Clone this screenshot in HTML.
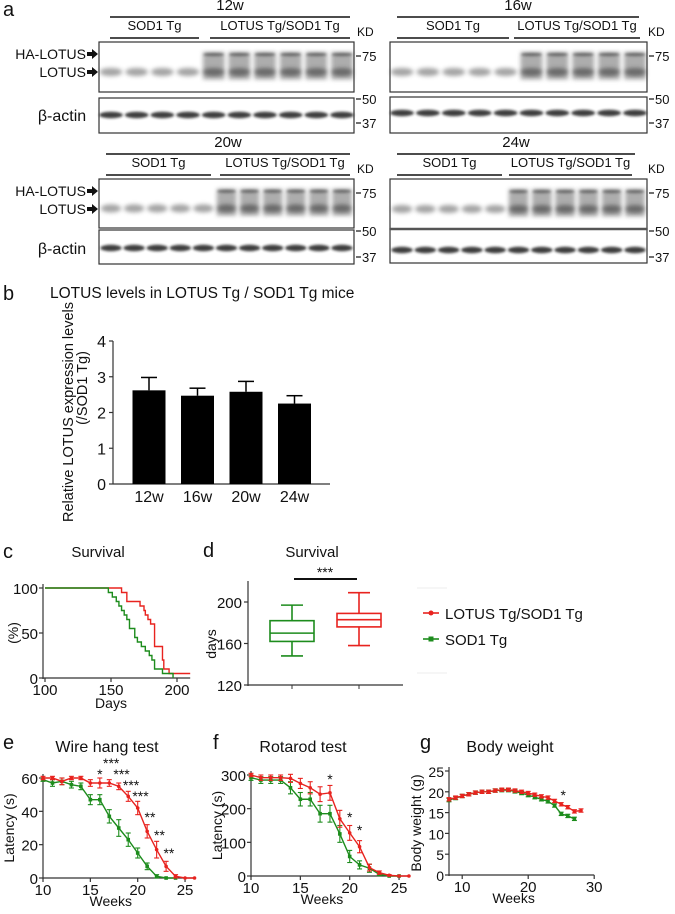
<!DOCTYPE html>
<html><head><meta charset="utf-8">
<style>
html,body{margin:0;padding:0;background:#fff;}
svg{display:block;font-family:"Liberation Sans",Arial,sans-serif;}
</style></head>
<body>
<svg id="fig" width="675" height="914" viewBox="0 0 675 914" xmlns="http://www.w3.org/2000/svg">
<defs>
<filter id="bl" x="-50%" y="-100%" width="200%" height="300%"><feGaussianBlur stdDeviation="2.2"/></filter>
<filter id="bl2" x="-50%" y="-100%" width="200%" height="300%"><feGaussianBlur stdDeviation="1.3"/></filter>
</defs>
<g id="root"></g>
</svg>
<script>
// ---------- DATA ----------
const barCats = ["12w","16w","20w","24w"];
const barVals = [2.62,2.47,2.58,2.25];
const barErr = [0.36,0.21,0.29,0.22];
const barTicks = [0,1,2,3,4];

const survRedT = [100,158,162,172,175,176,178,180,183,189,190,194,210];
const survRedV = [100,95,85,80,75,70,65,60,35,20,10,5,5];
const survGreenT = [100,148,151,154,156,158,160,162,164,168,170,173,176,179,181,183,189,197];
const survGreenV = [100,95,90,85,80,75,70,65,55,45,40,35,30,25,20,10,5,0];
const survXTicks = [100,150,200];
const survYTicks = [0,50,100];

const boxGroups = ["SOD1 Tg","LOTUS Tg/SOD1 Tg"];
const boxMin = [148,158];
const boxQ1 = [162,176];
const boxMed = [170,183];
const boxQ3 = [182,189];
const boxMax = [197,209];
const boxTicks = [120,160,200];

const wireWeeks = [10,11,12,13,14,15,16,17,18,19,20,21,22,23,24,25,26];
const wireRed = [60,60,58,60,60,57,57,57,55,49,42,28,17,7,1,0,0];
const wireRedErr = [1,1,2,1,1,2,3,2,2,3,4,4,5,3,1,0,0];
const wireGreenWeeks = [10,11,12,13,14,15,16,17,18,19,20,21,22,23,24];
const wireGreen = [59,57,58,56,55,47,47,37,30,23,15,7,1,0,0];
const wireGreenErr = [1,2,2,2,2,3,3,4,5,4,3,2,1,0,0];
const wireXTicks = [10,15,20,25];
const wireYTicks = [0,20,40,60];

const rotaWeeks = [10,11,12,13,14,15,16,17,18,19,20,21,22,23,24,25,26];
const rotaRed = [300,292,292,292,290,275,262,243,247,170,128,87,25,10,2,0,0];
const rotaRedErr = [5,8,8,8,12,15,18,22,22,25,22,18,10,5,2,0,0];
const rotaGreenWeeks = [10,11,12,13,14,15,16,17,18,19,20,21,22,23,24,25];
const rotaGreen = [292,285,285,285,262,228,228,185,185,125,58,33,23,5,0,0];
const rotaGreenErr = [8,10,10,10,18,20,20,25,25,25,18,12,12,4,0,0];
const rotaXTicks = [10,15,20,25];
const rotaYTicks = [0,100,200,300];

const bwWeeksRed = [8,9,10,11,12,13,14,15,16,17,18,19,20,21,22,23,24,25,26,27,28];
const bwRed = [18.2,18.6,19,19.4,19.8,20,20,20.3,20.5,20.5,20.3,20,19.7,19.3,18.9,18.6,17.8,17,16.3,15.3,15.5];
const bwWeeksGreen = [8,9,10,11,12,13,14,15,16,17,18,19,20,21,22,23,24,25,26,27];
const bwGreen = [18,18.5,19,19.4,19.8,20,20,20.3,20.4,20.4,20.1,19.7,19.2,18.7,18.2,17.7,16.7,14.7,14.2,13.5];
const bwXTicks = [10,20,30];
const bwYTicks = [0,5,10,15,20,25];

const RED = "#e8231f", GREEN = "#1d8c1d";
const NS = "http://www.w3.org/2000/svg";
const root = document.getElementById("root");

function mk(tag, attrs, parent, txt){
  const e = document.createElementNS(NS, tag);
  for (const k in attrs) e.setAttribute(k, attrs[k]);
  if (txt !== undefined) e.textContent = txt;
  (parent || root).appendChild(e);
  return e;
}
function grp(name){
  const g = document.createElementNS(NS, "g");
  
  
  root.appendChild(g);
  return g;
}
function txt(g, x, y, s, size, anchor, extra){
  return mk("text", Object.assign({x:x, y:y, "font-size":size, "text-anchor":anchor||"start", fill:"#111"}, extra||{}), g, s);
}
function line(g, x1,y1,x2,y2,col,w){
  return mk("line",{x1:x1,y1:y1,x2:x2,y2:y2,stroke:col||"#111","stroke-width":w||1.2},g);
}

// ---------- PANEL A: BLOTS ----------
function blot(name, bx, bw, topY, topH, actY, actH, nS, nL, label, lx1, lx2, sx1, sx2, lo1, lo2, ticks, kdX, showLabels, actBand, thickMid){
  const g = grp(name);
  txt(g, (lx1+lx2)/2, topY-32, label, 15, "middle");
  line(g, lx1, topY-25, lx2, topY-25, "#111", 1.6);
  txt(g, (sx1+sx2)/2, topY-12, "SOD1 Tg", 13, "middle");
  line(g, sx1, topY-4, sx2, topY-4, "#111", 1.6);
  txt(g, (lo1+lo2)/2, topY-12, "LOTUS Tg/SOD1 Tg", 13, "middle");
  line(g, lo1, topY-4, lo2, topY-4, "#111", 1.6);
  txt(g, kdX, topY-6, "KD", 12, "start");
  const bands = mk("g",{}, g);
  const n = nS + nL, pitch = (bw-24)/(n-1);
  for (let i=0;i<n;i++){
    const cx = bx+12+i*pitch;
    if (i < nS){
      mk("ellipse",{cx:cx,cy:topY+topH*0.6,rx:pitch*0.44,ry:4,fill:"#666",opacity:0.6,filter:"url(#bl)"},bands);
    } else {
      mk("rect",{x:cx-pitch*0.42,y:topY+topH*0.2,width:pitch*0.84,height:topH*0.55,fill:"#777",opacity:0.6,filter:"url(#bl)"},bands);
      mk("ellipse",{cx:cx,cy:topY+topH*0.6,rx:pitch*0.42,ry:4,fill:"#333",opacity:0.55,filter:"url(#bl)"},bands);
      mk("ellipse",{cx:cx,cy:topY+topH*0.25,rx:pitch*0.4,ry:1.8,fill:"#333",opacity:0.55,filter:"url(#bl2)"},bands);
    }
    mk("ellipse",{cx:cx,cy:actBand,rx:pitch*0.46,ry:3.2,fill:"#1a1a1a",opacity:0.85,filter:"url(#bl2)"},bands);
  }
  mk("rect",{x:bx,y:topY,width:bw,height:topH,fill:"none",stroke:"#333","stroke-width":1.2},g);
  mk("rect",{x:bx,y:actY,width:bw,height:actH,fill:"none",stroke:"#333","stroke-width":1.2},g);
  if (thickMid) line(g, bx, actY, bx+bw, actY, "#555", 2.5);
  const tx = bx+bw;
  ticks.forEach(t=>{
    line(g, tx+2, t[1], tx+7, t[1], "#111", 1.2);
    txt(g, tx+8, t[1]+5, t[0], 13, "start");
  });
  if (showLabels){
    txt(g, 86, topY+12+5, "HA-LOTUS", 14, "end");
    txt(g, 86, topY+30+5, "LOTUS", 14, "end");
    [topY+12, topY+30].forEach(y=>{
      mk("polygon",{points:`87,${y-2} 92,${y-2} 92,${y-5} 98,${y} 92,${y+5} 92,${y+2} 87,${y+2}`,fill:"#111"},g);
    });
    txt(g, 62, actBand+6, "β-actin", 16, "middle");
  }
}
txt(grp("panel-a-label"), 3, 16, "a", 20, "start");
blot("blot-12w", 99, 255, 42, 50, 98, 35, 4, 6, "12w", 110, 350, 110, 199, 210, 350,
  [["75",56],["50",99],["37",123]], 357, true, 115, false);
blot("blot-16w", 390, 257, 42, 50, 97, 36, 5, 5, "16w", 397, 639, 397, 509, 514, 640,
  [["75",56],["50",99],["37",123]], 648, false, 113, false);
blot("blot-20w", 99, 255, 179, 49, 230, 34, 5, 6, "20w", 106, 350, 106, 211, 220, 350,
  [["75",193],["50",231],["37",257]], 357, true, 248, false);
blot("blot-24w", 390, 257, 179, 50, 229, 34, 5, 6, "24w", 397, 635, 397, 502, 509, 632,
  [["75",193],["50",231],["37",257]], 648, false, 250, true);

// ---------- PANEL B: BAR CHART ----------
(function(){
  const g = grp("bar-chart-lotus-levels");
  txt(g, 3, 300, "b", 20, "start");
  txt(g, 50, 298, "LOTUS levels in LOTUS Tg / SOD1 Tg mice", 15.5, "start");
  const x0 = 113, x1 = 330, yb = 484, yt = 341;
  const ys = v => yb - (v/4)*(yb-yt);
  const xs = i => 149 + i*48.5;
  line(g, x0, yt, x0, yb, "#333", 1.2);
  line(g, x0, yb, x1, yb, "#333", 1.2);
  barTicks.forEach(t=>{
    line(g, x0-4, ys(t), x0, ys(t), "#333", 1.2);
    txt(g, x0-7, ys(t)+6, String(t), 16, "end");
  });
  barCats.forEach((c,i)=>{
    const b = mk("rect",{x:xs(i)-16.5,y:ys(barVals[i]),width:33,height:yb-ys(barVals[i]),fill:"#000"},g);
    
    
    const top = ys(barVals[i]+barErr[i]);
    line(g, xs(i), ys(barVals[i]), xs(i), top, "#000", 1.5);
    line(g, xs(i)-8, top, xs(i)+8, top, "#000", 1.5);
    txt(g, xs(i), 502, c, 16, "middle");
  });
  txt(g, 0, 0, "Relative  LOTUS expression levels", 14.5, "middle", {transform:"translate(73,412) rotate(-90)"});
  txt(g, 0, 0, "(/SOD1 Tg)", 14.5, "middle", {transform:"translate(87,388) rotate(-90)"});
})();

// ---------- PANEL C: SURVIVAL CURVE ----------
(function(){
  const g = grp("survival-curve-chart");
  txt(g, 3, 558, "c", 20, "start");
  txt(g, 98, 557, "Survival", 15, "middle");
  const xs = d => 45 + (d-100)*1.32, ys = v => 678 - v*0.9;
  line(g, 43, 584, 43, 679, "#333", 1.2);
  line(g, 43, 678, xs(210), 678, "#333", 1.2);
  survYTicks.forEach(t=>{ line(g, 39, ys(t), 43, ys(t), "#333", 1.2); txt(g, 38, ys(t)+6, String(t), 15, "end"); });
  survXTicks.forEach(t=>{ line(g, xs(t), 678, xs(t), 682, "#333", 1.2); txt(g, xs(t), 695, String(t), 15, "middle"); });
  txt(g, xs(150), 708, "Days", 14, "middle");
  txt(g, 0, 0, "(%)", 14, "middle", {transform:"translate(18,633) rotate(-90)"});
  function step(T, V, col, name){
    let d = `M${xs(T[0])},${ys(V[0])}`;
    for (let i=1;i<T.length;i++){ d += ` H${xs(T[i])} V${ys(V[i])}`; }
    const p = mk("path",{d:d,fill:"none",stroke:col,"stroke-width":1.4},g);
    
    
  }
  step(survRedT, survRedV, RED, "survival-line-lotus");
  step(survGreenT, survGreenV, GREEN, "survival-line-sod1");
})();

// ---------- PANEL D: BOX PLOT ----------
(function(){
  const g = grp("survival-boxplot");
  txt(g, 203, 557, "d", 20, "start");
  txt(g, 312, 557, "Survival", 15, "middle");
  const ys = v => 685 - (v-120)*(41.5/40);
  const xs = i => 292 + i*67;
  line(g, 248, 581, 248, 686, "#333", 1.2);
  line(g, 248, 685, 403, 685, "#333", 1.2);
  boxTicks.forEach(t=>{ line(g, 244, ys(t), 248, ys(t), "#333", 1.2); txt(g, 242, ys(t)+6, String(t), 15, "end"); });
  txt(g, 0, 0, "days", 14, "middle", {transform:"translate(216,644) rotate(-90)"});
  const cols = [GREEN, RED];
  boxGroups.forEach((n,i)=>{
    const c = cols[i], x = xs(i), hw = 22;
    line(g, x, 685, x, 689, "#333", 1);
    const b = mk("rect",{x:x-hw,y:ys(boxQ3[i]),width:2*hw,height:ys(boxQ1[i])-ys(boxQ3[i]),fill:"none",stroke:c,"stroke-width":1.6},g);
    
    
    line(g, x-hw, ys(boxMed[i]), x+hw, ys(boxMed[i]), c, 1.6);
    line(g, x, ys(boxQ3[i]), x, ys(boxMax[i]), c, 1.6);
    line(g, x, ys(boxQ1[i]), x, ys(boxMin[i]), c, 1.6);
    line(g, x-11, ys(boxMax[i]), x+11, ys(boxMax[i]), c, 1.6);
    line(g, x-11, ys(boxMin[i]), x+11, ys(boxMin[i]), c, 1.6);
  });
  line(g, 294, 579, 357, 579, "#111", 2);
  txt(g, 325, 577, "***", 14, "middle");
  const lg = grp("legend");
  line(lg, 417, 588, 447, 588, "#eee", 1);
  line(lg, 417, 673, 447, 673, "#eee", 1);
  line(lg, 423, 613, 439, 613, RED, 1.6);
  mk("circle",{cx:431,cy:613,r:2.5,fill:RED},lg);
  txt(lg, 445, 619, "LOTUS Tg/SOD1 Tg", 15, "start");
  line(lg, 423, 639, 439, 639, GREEN, 1.6);
  mk("rect",{x:428.5,y:636.5,width:5,height:5,fill:GREEN},lg);
  txt(lg, 445, 645, "SOD1 Tg", 15, "start");
})();

// ---------- LINE CHARTS ----------
function lineChart(name, o){
  const g = grp(name);
  txt(g, o.lx, 749, o.letter, 20, "start");
  txt(g, o.tx, 752, o.title, 16, "middle");
  const xs = w => o.x0 + (w-o.wmin)*o.px;
  const ys = v => o.yb - (v/o.vmax)*(o.yb-o.yt);
  line(g, o.x0, o.yt-4, o.x0, o.yb+1, "#333", 1.2);
  line(g, o.x0, o.yb, xs(o.wmax), o.yb, "#333", 1.2);
  o.yTicks.forEach(t=>{ line(g, o.x0-4, ys(t), o.x0, ys(t), "#333", 1.2); txt(g, o.x0-5, ys(t)+6, String(t), o.tfs||15, "end"); });
  o.xTicks.forEach(t=>{ line(g, xs(t), o.yb, xs(t), o.yb+4, "#333", 1.2); txt(g, xs(t), o.yb+17, String(t), 15, "middle"); });
  txt(g, (o.x0+xs(o.wmax))/2 - 8, o.yb+28, "Weeks", 14, "middle");
  txt(g, 0, 0, o.ylab, 14, "middle", {transform:`translate(${o.ylx},${(o.yt+o.yb)/2}) rotate(-90)`});
  function series(W, V, E, col, sname, marker){
    const s = mk("g",{},g);
    
    
    mk("polyline",{points:W.map((w,i)=>xs(w)+","+ys(V[i])).join(" "),fill:"none",stroke:col,"stroke-width":1.4},s);
    W.forEach((w,i)=>{
      if (E && E[i]>0){
        line(s, xs(w), ys(V[i]-E[i]), xs(w), ys(V[i]+E[i]), col, 1.1);
        line(s, xs(w)-2.5, ys(V[i]-E[i]), xs(w)+2.5, ys(V[i]-E[i]), col, 1.1);
        line(s, xs(w)-2.5, ys(V[i]+E[i]), xs(w)+2.5, ys(V[i]+E[i]), col, 1.1);
      }
      if (marker==="c") mk("circle",{cx:xs(w),cy:ys(V[i]),r:1.8,fill:col},s);
      else mk("rect",{x:xs(w)-1.8,y:ys(V[i])-1.8,width:3.6,height:3.6,fill:col},s);
    });
  }
  series(o.gw, o.gv, o.ge, GREEN, name+"-sod1-series", "s");
  series(o.rw, o.rv, o.re, RED, name+"-lotus-series", "c");
  (o.stars||[]).forEach(s=>txt(g, xs(s[0]), s[1], s[2], 14, "middle"));
}
lineChart("wire-hang-chart", {letter:"e", lx:3, title:"Wire hang test", tx:107, x0:43, wmin:10, wmax:26, px:9.47,
  yb:878, yt:778, vmax:60, yTicks:wireYTicks, xTicks:wireXTicks, ylab:"Latency (s)", ylx:14,
  rw:wireWeeks, rv:wireRed, re:wireRedErr, gw:wireGreenWeeks, gv:wireGreen, ge:wireGreenErr,
  stars:[[16,779,"*"],[17.2,768,"***"],[18.3,779,"***"],[19.3,790,"***"],[20.3,801,"***"],[21.3,822,"**"],[22.3,840,"**"],[23.3,858,"**"]]});
lineChart("rotarod-chart", {letter:"f", lx:213, title:"Rotarod test", tx:303, x0:251, wmin:10, wmax:26, px:9.87,
  yb:876, yt:775, vmax:300, yTicks:rotaYTicks, xTicks:rotaXTicks, ylab:"Latency (s)", ylx:222,
  rw:rotaWeeks, rv:rotaRed, re:rotaRedErr, gw:rotaGreenWeeks, gv:rotaGreen, ge:rotaGreenErr,
  stars:[[18,784,"*"],[20,822,"*"],[21,835,"*"]]});
lineChart("body-weight-chart", {letter:"g", lx:420, title:"Body weight", tx:510, x0:449, wmin:8, wmax:30, px:6.6,
  yb:875, yt:771, vmax:25, yTicks:bwYTicks, xTicks:bwXTicks, ylab:"Body weight (g)", ylx:421, tfs:14,
  rw:bwWeeksRed, rv:bwRed, re:bwRed.map(()=>0.4), gw:bwWeeksGreen, gv:bwGreen, ge:bwGreen.map(()=>0.4),
  stars:[[25.3,800,"*"]]});
</script>
</body></html>
